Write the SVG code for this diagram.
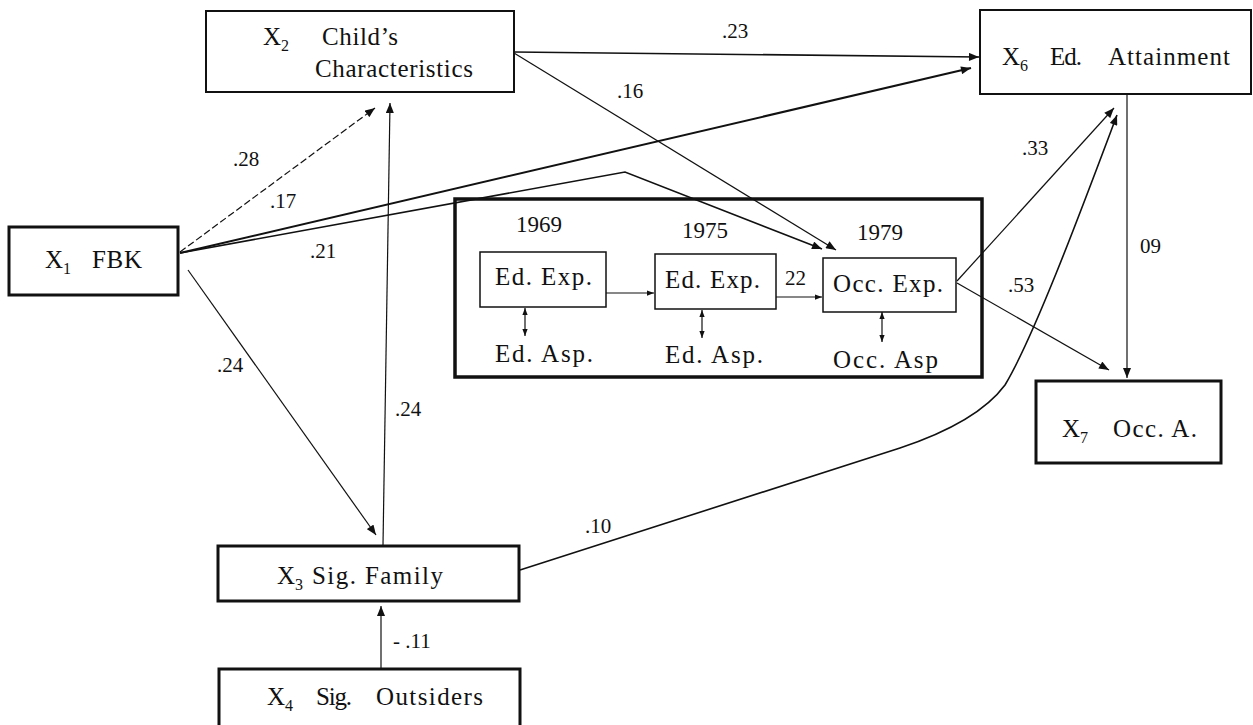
<svg xmlns="http://www.w3.org/2000/svg" width="1253" height="725" viewBox="0 0 1253 725">
<style>
text{font-family:"Liberation Serif","Times New Roman",serif;fill:#111;}
.lbl{font-size:25px;}
.yr{font-size:23px;}
.num{font-size:21px;}
.sub{font-size:16px;}
.box{fill:#fff;stroke:#111;}
.thick{stroke-width:3;}
.med{stroke-width:2;}
.thin{stroke-width:1.5;}
.c{fill:none;stroke:#111;stroke-width:1.2;}
</style>
<defs>
<marker id="ah" viewBox="0 0 10 8" refX="10" refY="4" markerWidth="11" markerHeight="8" markerUnits="userSpaceOnUse" orient="auto-start-reverse">
<path d="M0,0 L10,4 L0,8 z" fill="#111"/>
</marker>
<marker id="sm" viewBox="0 0 8 6" refX="8" refY="3" markerWidth="7" markerHeight="6" markerUnits="userSpaceOnUse" orient="auto-start-reverse">
<path d="M0,0 L8,3 L0,6 z" fill="#111"/>
</marker>
</defs>
<rect width="1253" height="725" fill="#fff"/>

<g id="connectors">
<path class="c" d="M180,252 L375,108" stroke-dasharray="7 3" marker-end="url(#ah)"/>
<path class="c" d="M180,253 L971,68" style="stroke-width:2" marker-end="url(#ah)"/>
<path class="c" d="M180,253 L625,172 L822,249" style="stroke-width:1.6" marker-end="url(#ah)"/>
<path class="c" d="M188,270 L376,535" marker-end="url(#ah)"/>
<path class="c" d="M383,545 L390,103" marker-end="url(#ah)"/>
<path class="c" d="M381,669 L381,606" marker-end="url(#ah)"/>
<path class="c" d="M514,52 L979,57" style="stroke-width:1.6" marker-end="url(#ah)"/>
<path class="c" d="M514,53 L836,250" marker-end="url(#ah)"/>
<path class="c" d="M1127,95 L1127,378" marker-end="url(#ah)"/>
<path class="c" d="M957,281 L1114,108" marker-end="url(#ah)"/>
<path class="c" d="M957,283 L1109,370" marker-end="url(#ah)"/>
<path class="c" d="M520,570 L900,448 C945,433 985,412 1005,385 C1035,335 1085,200 1117,115" style="stroke-width:1.6" marker-end="url(#ah)"/>
<path class="c" d="M606,293 L654,293" marker-end="url(#sm)"/>
<path class="c" d="M776,297 L822,297" marker-end="url(#sm)"/>
<path class="c" d="M525,308 L525,336" marker-start="url(#sm)" marker-end="url(#sm)"/>
<path class="c" d="M702,310 L702,338" marker-start="url(#sm)" marker-end="url(#sm)"/>
<path class="c" d="M882,312 L882,342" marker-start="url(#sm)" marker-end="url(#sm)"/>
</g>

<g id="labels">
<text class="num" x="233" y="166">.28</text>
<text class="num" x="270" y="208">.17</text>
<text class="num" x="310" y="258">.21</text>
<text class="num" x="217" y="372">.24</text>
<text class="num" x="395" y="416">.24</text>
<text class="num" x="722" y="38">.23</text>
<text class="num" x="617" y="98">.16</text>
<text class="num" x="1022" y="155">.33</text>
<text class="num" x="1008" y="292">.53</text>
<text class="num" x="1140" y="253">09</text>
<text class="num" x="585" y="533">.10</text>
<text class="num" x="393" y="648">- .11</text>
<text class="num" x="785" y="285">22</text>
</g>

<g id="x2">
<rect class="box med" x="206" y="11" width="308" height="81"/>
<text class="lbl" x="263" y="45">X<tspan class="sub" dy="6">2</tspan></text>
<text class="lbl" x="322" y="45" textLength="76">Child’s</text>
<text class="lbl" x="315" y="77" textLength="158">Characteristics</text>
</g>

<g id="x6">
<rect class="box med" x="980" y="10" width="271" height="84"/>
<text class="lbl" x="1002" y="65">X<tspan class="sub" dy="6">6</tspan></text>
<text class="lbl" x="1050" y="65" textLength="32">Ed.</text>
<text class="lbl" x="1108" y="65" textLength="122">Attainment</text>
</g>

<g id="x1">
<rect class="box thick" x="9" y="227" width="169" height="68"/>
<text class="lbl" x="45" y="268">X<tspan class="sub" dy="6">1</tspan></text>
<text class="lbl" x="92" y="268" textLength="50">FBK</text>
</g>

<g id="expectations">
<rect fill="none" stroke="#111" stroke-width="3.5" x="455" y="199" width="527" height="178"/>
<text class="yr" x="539" y="232" text-anchor="middle">1969</text>
<text class="yr" x="705" y="238" text-anchor="middle">1975</text>
<text class="yr" x="880" y="240" text-anchor="middle">1979</text>
<g id="edexp1969">
<rect class="box thin" x="480" y="252" width="126" height="55"/>
<text class="lbl" x="495" y="285" textLength="97">Ed. Exp.</text>
</g>
<g id="edexp1975">
<rect class="box thin" x="655" y="254" width="121" height="55"/>
<text class="lbl" x="665" y="288" textLength="95">Ed. Exp.</text>
</g>
<g id="occexp1979">
<rect class="box thin" x="823" y="258" width="133" height="54"/>
<text class="lbl" x="833" y="292" textLength="110">Occ. Exp.</text>
</g>
<text class="lbl" x="495" y="362" textLength="98">Ed. Asp.</text>
<text class="lbl" x="665" y="363" textLength="98">Ed. Asp.</text>
<text class="lbl" x="833" y="368" textLength="105">Occ. Asp</text>
</g>

<g id="x7">
<rect class="box thick" x="1036" y="381" width="185" height="82"/>
<text class="lbl" x="1062" y="437">X<tspan class="sub" dy="6">7</tspan></text>
<text class="lbl" x="1113" y="437" textLength="84">Occ. A.</text>
</g>

<g id="x3">
<rect class="box thick" x="218" y="546" width="301" height="55"/>
<text class="lbl" x="277" y="584">X<tspan class="sub" dy="6">3</tspan></text>
<text class="lbl" x="312" y="584" textLength="131">Sig. Family</text>
</g>

<g id="x4">
<rect class="box thick" x="219" y="669" width="301" height="60"/>
<text class="lbl" x="267" y="705">X<tspan class="sub" dy="6">4</tspan></text>
<text class="lbl" x="316" y="705" textLength="36">Sig.</text>
<text class="lbl" x="376" y="705" textLength="107">Outsiders</text>
</g>
</svg>
